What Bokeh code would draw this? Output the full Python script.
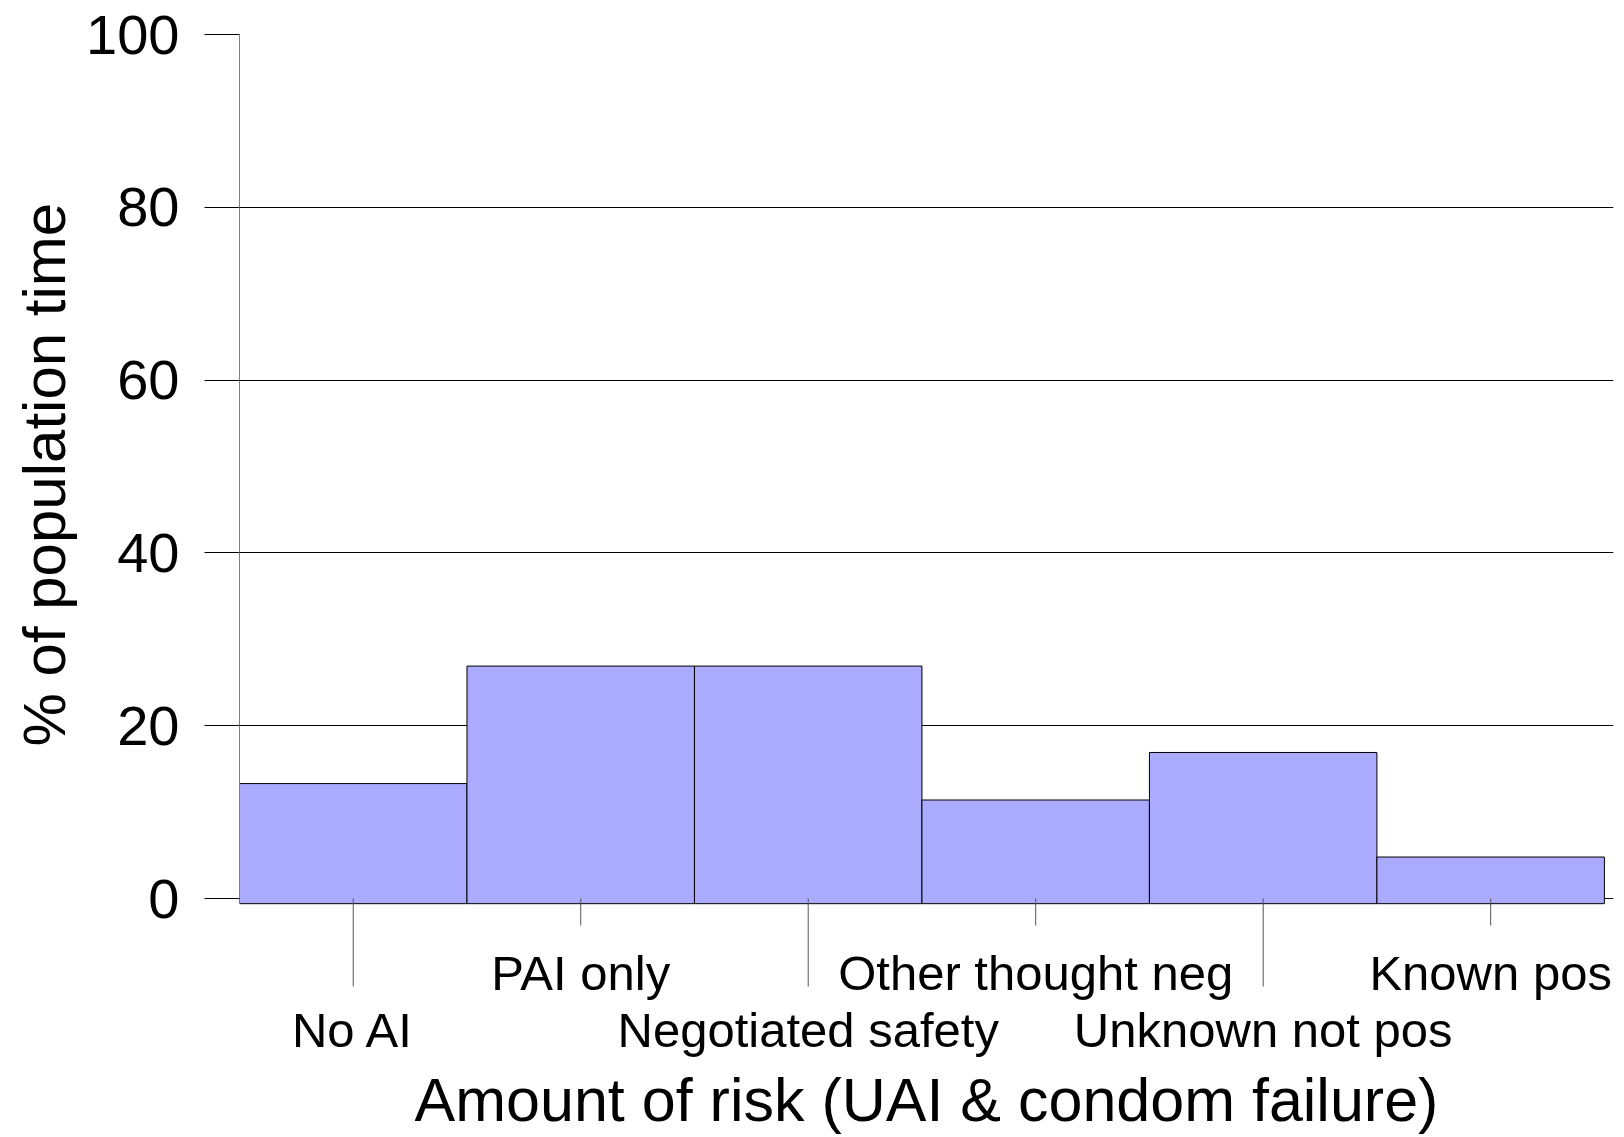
from bokeh.plotting import figure
from bokeh.models import Range1d, FixedTicker, LinearAxis, Grid, Title, ColumnDataSource
from bokeh.embed import file_html
from bokeh.resources import INLINE
from bokeh.core.properties import value

# ---- data ----
categories = ["No AI", "PAI only", "Negotiated safety", "Other thought neg",
              "Unknown not pos", "Known pos"]
percent_time = [13.3, 26.9, 26.9, 11.4, 16.9, 4.8]
y_ticks = [0, 20, 40, 60, 80, 100]
x_title = "Amount of risk (UAI & condom failure)"
y_title = "% of population time"

# ---- layout constants (pixels) ----
FONT = "Liberation Sans"
FRAME_TOP_PX = 34
ZERO_PX = 898
FRAME_BOTTOM_PX = 1061
FRAME_H = FRAME_BOTTOM_PX - FRAME_TOP_PX
FRAME_W = 1374
PPU = (ZERO_PX - FRAME_TOP_PX) / 100.0   # pixels per percentage unit
BAR_BOTTOM = -0.6
TEXT_SHIFT = 18            # text glyph baseline correction

def px_to_y(px):
    return 100 - (px - FRAME_TOP_PX) / PPU

y_low = 100 - FRAME_H / PPU

xs = list(range(len(categories)))

p = figure(frame_width=FRAME_W, frame_height=FRAME_H,
           output_backend="svg", toolbar_location=None,
           x_range=Range1d(-0.5, 5.54), y_range=Range1d(y_low, 100),
           x_axis_type=None, y_axis_type=None,
           min_border_left=239, min_border_right=3,
           min_border_top=FRAME_TOP_PX, min_border_bottom=0)
p.outline_line_color = None
p.background_fill_color = "white"
p.border_fill_color = "white"

# horizontal gridlines
grid = Grid(dimension=1, ticker=FixedTicker(ticks=y_ticks),
            grid_line_color="black", grid_line_width=1)
p.add_layout(grid)

# y axis
yaxis = LinearAxis(ticker=FixedTicker(ticks=y_ticks), bounds=(0, 100))
yaxis.axis_line_color = "#808080"
yaxis.major_tick_line_color = "black"
yaxis.major_tick_out = 35
yaxis.major_tick_in = 0
yaxis.minor_tick_line_color = None
yaxis.major_label_text_font = FONT
yaxis.major_label_text_font_size = "56px"
yaxis.major_label_text_color = "black"
yaxis.major_label_standoff = 25
p.add_layout(yaxis, "left")

# y title (side title so it can be positioned like the original)
ytitle = Title(text=y_title, align="left", offset=FRAME_BOTTOM_PX - 746, standoff=12,
               text_font=FONT, text_font_size="60px", text_font_style="normal",
               text_color="black")
p.add_layout(ytitle, "left")

# x axis (title only)
xaxis = LinearAxis(ticker=FixedTicker(ticks=[]), axis_label=x_title)
xaxis.axis_line_color = None
xaxis.major_tick_line_color = None
xaxis.minor_tick_line_color = None
xaxis.major_tick_out = 0
xaxis.major_tick_in = 0
xaxis.major_label_standoff = 0
xaxis.axis_label_standoff = 4
xaxis.axis_label_text_font = FONT
xaxis.axis_label_text_font_size = "61px"
xaxis.axis_label_text_font_style = "normal"
xaxis.axis_label_text_color = "black"
p.add_layout(xaxis, "below")

# bars
src = ColumnDataSource(dict(x=xs, top=percent_time, cat=categories))
p.vbar(x="x", top="top", bottom=BAR_BOTTOM, width=1.0, source=src,
       fill_color="#AAAAFF", line_color="black", line_width=1)

# category tick marks (alternating long / short)
tick_y0 = [0 for _ in xs]
tick_y1 = [px_to_y(986) if i % 2 == 0 else px_to_y(925) for i in xs]
p.segment(x0=xs, y0=tick_y0, x1=xs, y1=tick_y1, line_color="#555555", line_width=1)

# category labels in two staggered rows
label_y = [px_to_y(1047 - TEXT_SHIFT) if i % 2 == 0 else px_to_y(990 - TEXT_SHIFT)
           for i in xs]
p.text(x=xs, y=label_y, text=categories, text_align="center",
       text_baseline="alphabetic", text_font=value(FONT),
       text_font_size="49px", text_color="black")

open("out.html", "w").write(file_html(p, INLINE))
